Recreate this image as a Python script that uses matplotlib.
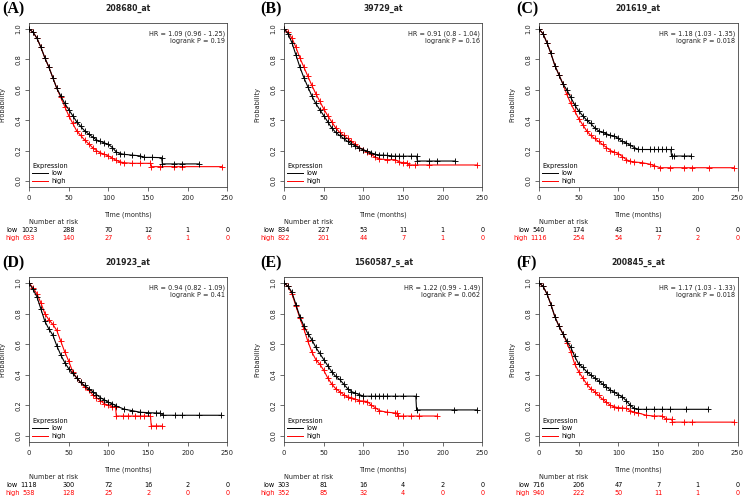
import matplotlib
matplotlib.use('Agg')
import matplotlib.pyplot as plt
from matplotlib.lines import Line2D
from matplotlib.transforms import blended_transform_factory

# ---------------- data ----------------
panel_labels = ['(A)', '(B)', '(C)', '(D)', '(E)', '(F)']
probe_ids = ['208680_at', '39729_at', '201619_at', '201923_at', '1560587_s_at', '200845_s_at']
hr_texts = ['HR = 1.09 (0.96 - 1.25)', 'HR = 0.91 (0.8 - 1.04)', 'HR = 1.18 (1.03 - 1.35)',
            'HR = 0.94 (0.82 - 1.09)', 'HR = 1.22 (0.99 - 1.49)', 'HR = 1.17 (1.03 - 1.33)']
logrank_texts = ['logrank P = 0.19', 'logrank P = 0.16', 'logrank P = 0.018',
                 'logrank P = 0.41', 'logrank P = 0.062', 'logrank P = 0.018']
risk_times = [0, 50, 100, 150, 200, 250]
risk_low = [[1023, 288, 70, 12, 1, 0], [834, 227, 53, 11, 1, 0], [540, 174, 43, 11, 0, 0],
            [1118, 300, 72, 16, 2, 0], [303, 81, 16, 4, 2, 0], [716, 206, 47, 7, 1, 0]]
risk_high = [[633, 140, 27, 6, 1, 0], [822, 201, 44, 7, 1, 0], [1116, 254, 54, 7, 2, 0],
             [538, 128, 25, 2, 0, 0], [352, 85, 32, 4, 0, 0], [940, 222, 50, 11, 1, 0]]

# Panel A
a_low_t = [0, 5, 10, 15, 20, 25, 30, 35, 40, 45, 50, 55, 60, 65, 70, 75, 80, 85, 90, 95, 100, 105, 110, 115, 120,
           130, 140, 145, 155, 167, 168, 183, 193, 214]
a_low_s = [1.0, 0.98, 0.94, 0.88, 0.81, 0.75, 0.68, 0.61, 0.56, 0.51, 0.47, 0.43, 0.39, 0.36, 0.33, 0.31, 0.29,
           0.27, 0.26, 0.25, 0.24, 0.22, 0.19, 0.18, 0.175, 0.17, 0.165, 0.155, 0.155, 0.153, 0.112, 0.112, 0.112,
           0.112]
a_high_t = [0, 5, 10, 15, 20, 25, 30, 35, 40, 45, 50, 55, 60, 65, 70, 75, 80, 85, 90, 95, 100, 105, 110, 115, 120,
            130, 140, 153, 154, 165, 183, 193, 243]
a_high_s = [1.0, 0.98, 0.94, 0.88, 0.81, 0.75, 0.68, 0.61, 0.55, 0.49, 0.43, 0.38, 0.33, 0.30, 0.27, 0.245, 0.22,
            0.20, 0.185, 0.175, 0.165, 0.15, 0.135, 0.125, 0.12, 0.116, 0.116, 0.116, 0.094, 0.094, 0.094, 0.094,
            0.094]
# Panel B
b_low_t = [0, 5, 10, 15, 20, 25, 30, 35, 40, 45, 50, 55, 60, 65, 70, 75, 80, 85, 90, 95, 100, 105, 110, 115,
           120, 125, 130, 135, 140, 145, 150, 160, 167, 168, 183, 193, 215]
b_low_s = [1.0, 0.97, 0.91, 0.83, 0.75, 0.68, 0.62, 0.56, 0.51, 0.47, 0.43, 0.39, 0.35, 0.32, 0.30, 0.28, 0.26,
           0.245, 0.23, 0.215, 0.205, 0.195, 0.185, 0.175, 0.17, 0.17, 0.168, 0.165, 0.163, 0.163, 0.163, 0.163,
           0.163, 0.131, 0.131, 0.131, 0.131]
b_high_t = [0, 5, 10, 15, 20, 25, 30, 35, 40, 45, 50, 55, 60, 65, 70, 75, 80, 85, 90, 95, 100, 105, 110, 115,
            120, 130, 140, 145, 150, 155, 158, 165, 183, 243]
b_high_s = [1.0, 0.98, 0.94, 0.88, 0.81, 0.75, 0.69, 0.63, 0.575, 0.525, 0.475, 0.43, 0.39, 0.35, 0.32, 0.30, 0.28,
            0.26, 0.24, 0.22, 0.205, 0.19, 0.175, 0.155, 0.145, 0.14, 0.14, 0.125, 0.12, 0.12, 0.105, 0.105, 0.105,
            0.105]
# Panel C
c_low_t = [0, 5, 10, 15, 20, 25, 30, 35, 40, 45, 50, 55, 60, 65, 70, 75, 80, 85, 90, 95, 100, 105, 110, 115, 120,
           125, 130, 140, 145, 150, 155, 160, 166, 167, 170, 183, 192]
c_low_s = [1.0, 0.97, 0.91, 0.84, 0.76, 0.70, 0.64, 0.60, 0.55, 0.50, 0.46, 0.43, 0.40, 0.38, 0.35, 0.33, 0.32,
           0.31, 0.30, 0.295, 0.28, 0.26, 0.25, 0.235, 0.22, 0.207, 0.207, 0.207, 0.207, 0.207, 0.207, 0.207,
           0.207, 0.164, 0.164, 0.164, 0.164]
c_high_t = [0, 5, 10, 15, 20, 25, 30, 35, 40, 45, 50, 55, 60, 65, 70, 75, 80, 85, 90, 95, 100, 105, 110, 115, 120,
            130, 140, 145, 153, 165, 183, 193, 214, 245]
c_high_s = [1.0, 0.97, 0.91, 0.84, 0.76, 0.70, 0.64, 0.57, 0.51, 0.46, 0.41, 0.37, 0.33, 0.30, 0.28, 0.26, 0.24,
            0.22, 0.20, 0.19, 0.18, 0.16, 0.14, 0.13, 0.125, 0.12, 0.11, 0.10, 0.087, 0.087, 0.087, 0.087, 0.087,
            0.087]
# Panel D
d_low_t = [0, 5, 10, 15, 20, 25, 30, 35, 40, 45, 50, 55, 60, 65, 70, 75, 80, 85, 90, 95, 100, 105, 110,
           120, 130, 140, 150, 160, 165, 169, 184, 193, 214, 242]
d_low_s = [1.0, 0.96, 0.91, 0.83, 0.75, 0.70, 0.66, 0.59, 0.53, 0.48, 0.44, 0.41, 0.38, 0.35, 0.33, 0.31, 0.29,
           0.27, 0.25, 0.235, 0.22, 0.21, 0.195, 0.175, 0.165, 0.155, 0.152, 0.15, 0.15, 0.135, 0.135, 0.135,
           0.135, 0.135]
d_high_t = [0, 5, 10, 15, 20, 25, 30, 35, 40, 45, 50, 55, 60, 65, 70, 75, 80, 85, 90, 95, 100, 105,
            109, 110, 118, 125, 133, 140, 145, 153, 154, 160, 167]
d_high_s = [1.0, 0.97, 0.93, 0.87, 0.80, 0.76, 0.73, 0.69, 0.62, 0.55, 0.49, 0.42, 0.38, 0.35, 0.32, 0.30, 0.27,
            0.25, 0.23, 0.21, 0.20, 0.19, 0.19, 0.13, 0.13, 0.13, 0.13, 0.13, 0.13, 0.13, 0.065, 0.065, 0.065]
# Panel E
e_low_t = [0, 5, 10, 15, 20, 25, 30, 35, 40, 45, 50, 55, 60, 65, 70, 75, 80, 85, 90, 95, 100,
           110, 115, 120, 125, 130, 140, 150, 166, 167, 214, 243]
e_low_s = [1.0, 0.98, 0.94, 0.86, 0.78, 0.72, 0.67, 0.63, 0.58, 0.54, 0.50, 0.46, 0.42, 0.39, 0.37, 0.34, 0.31,
           0.29, 0.28, 0.27, 0.26, 0.26, 0.26, 0.26, 0.26, 0.26, 0.26, 0.26, 0.26, 0.17, 0.17, 0.17]
e_high_t = [0, 5, 10, 15, 20, 25, 30, 35, 40, 45, 50, 55, 60, 65, 70, 75, 80, 85, 90, 95, 100, 105,
            110, 115, 120, 130, 140, 142, 143, 150, 160, 170, 193]
e_high_s = [1.0, 0.98, 0.93, 0.85, 0.77, 0.70, 0.62, 0.55, 0.50, 0.47, 0.43, 0.38, 0.34, 0.31, 0.29, 0.27, 0.255,
            0.25, 0.24, 0.23, 0.228, 0.225, 0.20, 0.185, 0.165, 0.155, 0.15, 0.15, 0.13, 0.13, 0.13, 0.13, 0.13]
# Panel F
f_low_t = [0, 5, 10, 15, 20, 25, 30, 35, 40, 45, 50, 55, 60, 65, 70, 75, 80, 85, 90, 95, 100, 105, 110, 115, 120,
           125, 135, 145, 155, 165, 185, 213]
f_low_s = [1.0, 0.98, 0.93, 0.86, 0.78, 0.72, 0.67, 0.62, 0.58, 0.52, 0.47, 0.45, 0.42, 0.40, 0.38, 0.36, 0.34,
           0.32, 0.30, 0.285, 0.27, 0.255, 0.23, 0.20, 0.18, 0.174, 0.174, 0.174, 0.174, 0.174, 0.174, 0.174]
f_high_t = [0, 5, 10, 15, 20, 25, 30, 35, 40, 45, 50, 55, 60, 65, 70, 75, 80, 85, 90, 95, 100, 105, 110, 115, 120,
            125, 135, 145, 155, 160, 167, 168, 183, 193, 245]
f_high_s = [1.0, 0.98, 0.93, 0.86, 0.78, 0.72, 0.67, 0.61, 0.55, 0.47, 0.42, 0.38, 0.34, 0.31, 0.29, 0.265, 0.24,
            0.22, 0.20, 0.19, 0.185, 0.183, 0.18, 0.165, 0.155, 0.15, 0.135, 0.13, 0.13, 0.11, 0.109, 0.09, 0.09,
            0.09, 0.09]

curves = [((a_low_t, a_low_s), (a_high_t, a_high_s)),
          ((b_low_t, b_low_s), (b_high_t, b_high_s)),
          ((c_low_t, c_low_s), (c_high_t, c_high_s)),
          ((d_low_t, d_low_s), (d_high_t, d_high_s)),
          ((e_low_t, e_low_s), (e_high_t, e_high_s)),
          ((f_low_t, f_low_s), (f_high_t, f_high_s))]

# ---------------- layout ----------------
W, H = 743, 496
fig = plt.figure(figsize=(W / 100, H / 100), dpi=100)
col_left = [29, 284, 539]
row_top = [23, 277]
row_h = [164, 165]
ax_w = 198.5
label_x = [2, 260, 516]
label_y = [9, 263]
title_y = [8, 262]

LOW_C = 'black'
HIGH_C = '#ff0000'
FS = 4.7

for i in range(6):
    r, c = divmod(i, 3)
    hpx = row_h[r]
    ax = fig.add_axes([col_left[c] / W, 1 - (row_top[r] + hpx) / H, ax_w / W, hpx / H])
    (lt, ls), (ht, hs) = curves[i]
    ax.plot(lt, ls, color=LOW_C, lw=0.8, marker='+', ms=4.0, mew=0.65, zorder=3)
    ax.plot(ht, hs, color=HIGH_C, lw=0.8, marker='+', ms=4.0, mew=0.65, zorder=2)
    ax.set_xlim(0, 250)
    ax.set_ylim(-0.04, 1.04)
    ax.set_xticks(risk_times)
    ax.set_xticklabels([str(t) for t in risk_times])
    yt = [0.0, 0.2, 0.4, 0.6, 0.8, 1.0]
    ax.set_yticks(yt)
    ax.set_yticklabels(['%.1f' % v for v in yt], rotation=90, va='center')
    ax.tick_params(axis='both', length=3, width=0.5, labelsize=4.9, pad=2.5, color='#333333',
                   labelcolor='#222222')
    for sp in ax.spines.values():
        sp.set_linewidth(0.6)
        sp.set_color('#444444')

    ax.text(0.988, 0.955, hr_texts[i] + '\n' + logrank_texts[i], transform=ax.transAxes,
            ha='right', va='top', fontsize=FS, linespacing=1.15, color='#222222')

    handles = [Line2D([], [], color=LOW_C, lw=0.7), Line2D([], [], color=HIGH_C, lw=0.7)]
    ax.legend(handles, ['low', 'high'], title='Expression', loc='lower left',
              bbox_to_anchor=(0.0, 0.0), frameon=False, fontsize=FS, title_fontsize=FS,
              handlelength=2.4, handletextpad=0.6, labelspacing=0.25, borderpad=0.35,
              borderaxespad=0.1, alignment='left')

    ax.text(-27 / ax_w, 0.5, 'Probability', rotation=90, transform=ax.transAxes,
            ha='center', va='center', fontsize=FS, color='#222222')
    ax.text(0.5, -28 / hpx, 'Time (months)', transform=ax.transAxes, ha='center', va='center',
            fontsize=FS, color='#222222')

    tr = blended_transform_factory(ax.transData, ax.transAxes)
    ax.text(0, -35 / hpx, 'Number at risk', transform=tr, ha='left', va='center', fontsize=FS,
            color='#222222')
    for row_name, vals, colr, dy in (('low', risk_low[i], LOW_C, 43), ('high', risk_high[i], HIGH_C, 51)):
        first = None
        for t, v in zip(risk_times, vals):
            txt = ax.text(t, -dy / hpx, str(v), transform=tr, ha='center', va='center',
                          fontsize=FS, color=colr)
            if first is None:
                first = txt
        ax.annotate(row_name, xy=(0, 0.5), xycoords=first, xytext=(-2.5, 0),
                    textcoords='offset points', ha='right', va='center', fontsize=FS, color=colr)

    cx = (col_left[c] + ax_w / 2) / W
    fig.text(cx, 1 - title_y[r] / H, probe_ids[i], ha='center', va='center', fontsize=5.6,
             fontweight='bold', color='#222222')
    fig.text(label_x[c] / W, 1 - label_y[r] / H, panel_labels[i], ha='left', va='center',
             fontsize=11.5, fontweight='bold', family=['Liberation Serif', 'DejaVu Serif'])

fig.savefig('out.png', dpi=100)
